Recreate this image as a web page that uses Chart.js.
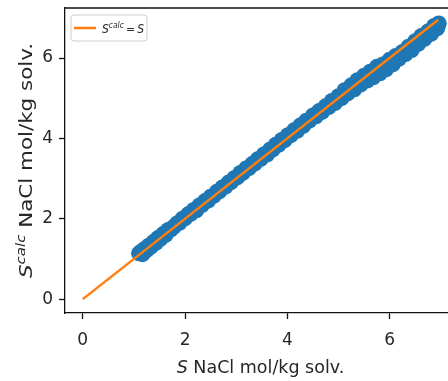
<!DOCTYPE html>
<html>
<head>
<meta charset="utf-8">
<script src="https://cdn.jsdelivr.net/npm/chart.js@4.4.0/dist/chart.umd.min.js"></script>
<style>
  html, body { margin: 0; padding: 0; background: #fff; overflow: hidden; }
  #wrap { width: 448px; height: 381px; overflow: hidden; position: relative; }
</style>
</head>
<body>
<div id="wrap"><canvas id="parityChart" width="464" height="381"></canvas></div>
<script>
// S (true) vs S^calc (model) for NaCl
const sValues = [1.10, 1.14, 1.17, 1.21, 1.25, 1.29, 1.33, 1.38, 1.43, 1.47, 1.52, 1.57, 1.62, 1.67, 1.72,
  1.78, 1.84, 1.89, 1.95, 2.00, 2.06, 2.11, 2.17, 2.22, 2.28, 2.33, 2.39, 2.45, 2.50, 2.56, 2.62, 2.67,
  2.73, 2.79, 2.85, 2.90, 2.96, 3.02, 3.08, 3.13, 3.19, 3.25, 3.31, 3.36, 3.42, 3.48, 3.54, 3.60, 3.66,
  3.71, 3.77, 3.83, 3.89, 3.95, 4.01, 4.07, 4.13, 4.19, 4.25, 4.31, 4.37, 4.43, 4.50, 4.56, 4.62, 4.68,
  4.75, 4.81, 4.87, 4.93, 5.00, 5.06, 5.12, 5.18, 5.25, 5.31, 5.37, 5.43, 5.50, 5.56, 5.62, 5.68, 5.75,
  5.81, 5.87, 5.93, 6.00, 6.06, 6.12, 6.18, 6.25, 6.31, 6.37, 6.43, 6.50, 6.56, 6.62, 6.68, 6.75, 6.81,
  6.87, 6.93, 6.96];
const sCalcValues = [1.14, 1.18, 1.12, 1.25, 1.22, 1.33, 1.30, 1.42, 1.40, 1.52, 1.50, 1.62, 1.60, 1.72, 1.73,
  1.80, 1.88, 1.90, 2.00, 2.01, 2.11, 2.12, 2.22, 2.21, 2.33, 2.34, 2.44, 2.45, 2.55, 2.57, 2.67, 2.68,
  2.78, 2.80, 2.90, 2.91, 3.01, 3.03, 3.14, 3.14, 3.25, 3.26, 3.36, 3.37, 3.48, 3.49, 3.60, 3.60, 3.72,
  3.72, 3.84, 3.84, 3.96, 3.96, 4.08, 4.08, 4.20, 4.19, 4.32, 4.31, 4.44, 4.44, 4.57, 4.55, 4.68, 4.66,
  4.80, 4.78, 4.93, 4.88, 5.05, 5.00, 5.20, 5.12, 5.32, 5.22, 5.45, 5.34, 5.56, 5.44, 5.66, 5.52, 5.78,
  5.62, 5.84, 5.72, 5.96, 5.84, 6.05, 5.98, 6.15, 6.10, 6.28, 6.20, 6.42, 6.35, 6.55, 6.48, 6.66, 6.60,
  6.80, 6.74, 6.86];
const identityLine = [0, 6.95];
const xTicks = [0, 2, 4, 6];
const yTicks = [0, 2, 4, 6];

const FONT = "'DejaVu Sans', sans-serif";
const INK = "#262626";

// draw a run of text pieces (italic / superscript), returns width
function richText(ctx, parts, x, y, size, measureOnly) {
  let w = 0;
  parts.forEach((p) => {
    const sz = size * (p.scale || 1);
    ctx.font = (p.italic ? "oblique " : "") + sz + "px " + FONT;
    if (!measureOnly) ctx.fillText(p.text, x + w, y - (p.raise || 0) * size);
    w += ctx.measureText(p.text).width;
  });
  return w;
}

const xTitle = [{ text: "S", italic: true }, { text: " NaCl mol/kg solv." }];
const yTitle = [{ text: "S", italic: true }, { text: "calc", italic: true, scale: 0.7, raise: 0.42 },
  { text: " NaCl mol/kg solv." }];
const legendText = [{ text: "S", italic: true }, { text: "calc", italic: true, scale: 0.7, raise: 0.42 },
  { text: "\u2009=\u2009" }, { text: "S", italic: true }];

const decorations = {
  id: "decorations",
  afterDraw(chart) {
    const { ctx, chartArea: a } = chart;
    ctx.save();
    // top / right frame lines
    ctx.strokeStyle = "#111";
    ctx.lineWidth = 1.3;
    ctx.beginPath();
    ctx.moveTo(a.left, a.top);
    ctx.lineTo(a.right, a.top);
    ctx.lineTo(a.right, a.bottom);
    ctx.stroke();

    ctx.fillStyle = INK;
    ctx.textBaseline = "alphabetic";
    // x title
    const xw = richText(ctx, xTitle, 0, 0, 17.5, true);
    richText(ctx, xTitle, (a.left + a.right) / 2 - xw / 2, 373, 17.5);
    // y title (stretched along its length like the source)
    const yw = richText(ctx, yTitle, 0, 0, 17.5, true);
    ctx.save();
    ctx.translate(32, (a.top + a.bottom) / 2);
    ctx.rotate(-Math.PI / 2);
    ctx.scale(235 / yw, 1);
    richText(ctx, yTitle, -yw / 2, 0, 17.5);
    ctx.restore();

    // legend box
    const bx = a.left + 6, by = a.top + 7, bw = 76, bh = 26;
    ctx.beginPath();
    ctx.roundRect(bx, by, bw, bh, 3);
    ctx.fillStyle = "rgba(255,255,255,0.8)";
    ctx.fill();
    ctx.strokeStyle = "#d0d0d0";
    ctx.lineWidth = 1;
    ctx.stroke();
    ctx.strokeStyle = "#ff7f0e";
    ctx.lineWidth = 2.5;
    ctx.beginPath();
    ctx.moveTo(bx + 3, by + 13);
    ctx.lineTo(bx + 25, by + 13);
    ctx.stroke();
    ctx.fillStyle = INK;
    const lw = richText(ctx, legendText, 0, 0, 12.5, true);
    ctx.save();
    ctx.translate(bx + 31, by + 18);
    ctx.scale(Math.min(1, 42 / lw), 1);
    richText(ctx, legendText, 0, 0, 12.5);
    ctx.restore();
    ctx.restore();
  }
};

const ctx = document.getElementById("parityChart");

new Chart(ctx, {
  type: "scatter",
  data: {
    datasets: [
      {
        type: "line",
        label: "Scalc = S",
        data: identityLine.map((v) => ({ x: v, y: v })),
        borderColor: "#ff7f0e",
        borderWidth: 2.5,
        pointRadius: 0,
        order: 0,
      },
      {
        label: "data",
        data: sValues.map((v, i) => ({ x: v, y: sCalcValues[i] })),
        backgroundColor: "#1f77b4",
        borderWidth: 0,
        pointRadius: 8,
        order: 1,
      },
    ],
  },
  options: {
    responsive: false,
    animation: false,
    layout: { padding: { left: 0, top: 7, right: 4, bottom: 0 } },
    plugins: { legend: { display: false }, tooltip: { enabled: false } },
    scales: {
      x: {
        type: "linear",
        min: -0.3475,
        max: 7.2975,
        afterBuildTicks: (s) => { s.ticks = xTicks.map((v) => ({ value: v })); },
        afterFit: (s) => { s.height = 68; s.paddingLeft = 0; s.paddingRight = 0; },
        ticks: { font: { family: FONT, size: 17 }, color: INK, padding: 11, includeBounds: false },
        grid: { drawOnChartArea: false, drawTicks: true, tickLength: 6, color: "#111", tickWidth: 1.3 },
        border: { display: true, color: "#111", width: 1.3 },
      },
      y: {
        type: "linear",
        min: -0.345,
        max: 7.245,
        afterBuildTicks: (s) => { s.ticks = yTicks.map((v) => ({ value: v })); },
        afterFit: (s) => { s.width = 65; s.paddingTop = 0; s.paddingBottom = 0; },
        ticks: { font: { family: FONT, size: 17 }, color: INK, padding: 6, includeBounds: false },
        grid: { drawOnChartArea: false, drawTicks: true, tickLength: 6, color: "#111", tickWidth: 1.3 },
        border: { display: true, color: "#111", width: 1.3 },
      },
    },
  },
  plugins: [decorations],
});
</script>
</body>
</html>
